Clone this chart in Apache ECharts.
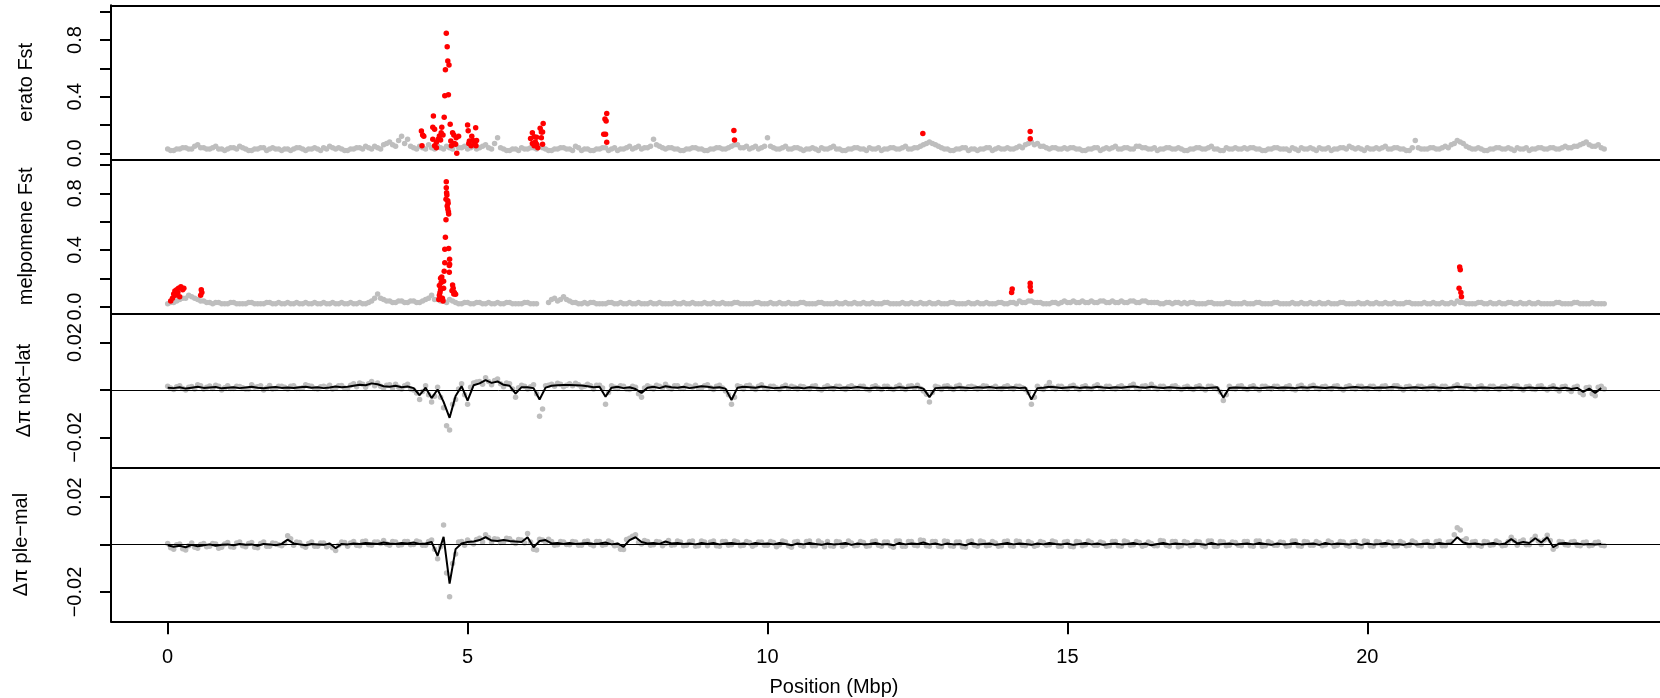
<!DOCTYPE html>
<html><head><meta charset="utf-8">
<script src="https://cdn.jsdelivr.net/npm/echarts@6/dist/echarts.min.js"></script>
<style>html,body{margin:0;padding:0;background:#fff}#c{width:1660px;height:698px}</style>
</head><body><div id="c"></div>
<script>
// window spacing along the chromosome (Mbp); window i sits at i * windowStep,
// the "Mid" arrays hold the windows that sit half a step further on
const windowStep = 0.1;
const midOffset = 0.05;
const xTicks = [0, 5, 10, 15, 20];
const fstTicks = [0, 0.2, 0.4, 0.6, 0.8, 1.0];
const fstLabels = [0, 0.4, 0.8];
const piTicks = [-0.02, 0, 0.02];
const piLabels = [-0.02, 0.02];
const panelNames = ['erato Fst', 'melpomene Fst', '\u0394\u03c0 not\u2212lat', '\u0394\u03c0 ple\u2212mal'];
const xTitle = 'Position (Mbp)';

// erato Fst, background windows
const eratoFst = [
0.03,0.02,0.03,0.04,0.03,0.06,0.04,0.03,0.05,0.03,
0.03,0.04,0.05,0.03,0.02,0.03,0.04,0.03,0.03,0.02,
0.03,0.03,0.04,0.02,0.03,0.03,0.04,0.05,0.03,0.03,
0.02,0.03,0.04,0.05,0.03,0.04,0.06,0.08,0.05,0.12,
0.10,0.04,0.05,0.03,0.04,0.05,0.03,0.04,0.06,0.04,
0.03,0.05,0.04,0.06,0.03,0.11,0.03,0.02,0.03,0.04,
0.03,0.04,0.05,0.03,0.02,0.03,0.04,0.03,0.05,0.02,
0.03,0.02,0.03,0.04,0.03,0.02,0.03,0.05,0.04,0.03,
0.04,0.10,0.05,0.03,0.04,0.03,0.02,0.03,0.04,0.03,
0.02,0.03,0.04,0.03,0.05,0.06,0.04,0.03,0.05,0.04,
0.11,0.04,0.03,0.05,0.03,0.04,0.02,0.03,0.03,0.04,
0.03,0.05,0.03,0.02,0.03,0.04,0.03,0.04,0.03,0.02,
0.03,0.04,0.03,0.05,0.03,0.04,0.06,0.08,0.06,0.04,
0.03,0.02,0.03,0.04,0.03,0.02,0.03,0.04,0.03,0.03,
0.04,0.03,0.05,0.06,0.08,0.07,0.05,0.03,0.04,0.03,
0.03,0.04,0.03,0.02,0.03,0.04,0.03,0.03,0.05,0.03,
0.04,0.03,0.05,0.04,0.03,0.02,0.03,0.04,0.03,0.03,
0.02,0.03,0.04,0.03,0.05,0.03,0.02,0.03,0.04,0.03,
0.03,0.04,0.03,0.02,0.03,0.04,0.03,0.02,0.03,0.04,
0.03,0.03,0.04,0.03,0.02,0.03,0.04,0.05,0.03,0.03,
0.04,0.03,0.03,0.05,0.03,0.04,0.03,0.02,0.09,0.03,
0.03,0.04,0.03,0.05,0.06,0.09,0.07,0.04,0.03,0.03,
0.02,0.03,0.04,0.03,0.03,0.04,0.03,0.02,0.03,0.04,
0.03,0.04,0.03,0.05,0.04,0.05,0.07,0.06,0.05,0.04];
const eratoFstMid = [
0.02,0.03,0.04,0.03,0.05,0.04,0.03,0.04,0.03,0.02,
0.04,0.03,0.04,0.02,0.03,0.04,0.02,0.04,0.03,0.03,
0.02,0.04,0.03,0.03,0.04,0.02,0.03,0.04,0.04,0.02,
0.03,0.04,0.03,0.04,0.05,0.03,0.07,0.06,0.09,0.07,
0.05,0.03,0.04,0.06,0.03,0.04,0.05,0.03,0.04,0.05,
0.04,0.03,0.05,0.04,0.07,0.04,0.02,0.03,0.02,0.03,
0.04,0.03,0.04,0.02,0.03,0.04,0.03,0.02,0.04,0.03,
0.02,0.03,0.04,0.02,0.04,0.03,0.04,0.03,0.05,0.04,
0.05,0.06,0.04,0.04,0.03,0.02,0.03,0.04,0.03,0.02,
0.03,0.04,0.03,0.04,0.06,0.04,0.05,0.04,0.03,0.05,
0.05,0.03,0.04,0.03,0.04,0.03,0.03,0.04,0.02,0.03,
0.04,0.03,0.02,0.03,0.04,0.03,0.02,0.03,0.04,0.03,
0.04,0.03,0.04,0.03,0.04,0.05,0.07,0.07,0.05,0.03,
0.02,0.03,0.04,0.02,0.03,0.03,0.04,0.02,0.04,0.03,
0.03,0.04,0.04,0.07,0.06,0.05,0.04,0.04,0.03,0.04,
0.04,0.03,0.02,0.03,0.04,0.02,0.04,0.04,0.03,0.04,
0.03,0.05,0.04,0.03,0.04,0.03,0.04,0.03,0.04,0.02,
0.03,0.04,0.03,0.04,0.03,0.02,0.04,0.03,0.03,0.04,
0.04,0.03,0.02,0.03,0.04,0.03,0.03,0.04,0.02,0.03,
0.04,0.02,0.03,0.04,0.03,0.04,0.03,0.04,0.04,0.02,
0.03,0.04,0.04,0.03,0.04,0.03,0.02,0.04,0.04,0.03,
0.04,0.03,0.04,0.04,0.07,0.08,0.05,0.03,0.04,0.02,
0.03,0.04,0.03,0.04,0.02,0.03,0.04,0.03,0.04,0.03,
0.04,0.03,0.04,0.04,0.05,0.06,0.08,0.05,0.06,0.03];

// erato Fst, outlier windows [Mbp, Fst]
const eratoOutliers = [
[4.23,0.157],[4.24,0.054],[4.25,0.129],[4.27,0.12],[4.42,0.184],[4.42,0.099],[4.43,0.263],[4.45,0.17],
[4.45,0.054],[4.48,0.078],[4.48,0.04],[4.51,0.099],[4.53,0.122],[4.55,0.094],[4.56,0.146],[4.57,0.184],
[4.59,0.129],[4.61,0.254],[4.62,0.407],[4.63,0.59],[4.645,0.847],[4.66,0.753],[4.67,0.652],[4.68,0.414],
[4.69,0.624],[4.71,0.205],[4.72,0.087],[4.73,0.054],[4.75,0.146],[4.77,0.13],[4.78,0.07],[4.80,0.065],
[4.81,0.11],[4.82,0.0],[4.85,0.12],[5.0,0.2],[5.01,0.16],[5.02,0.07],[5.03,0.087],[5.06,0.054],
[5.07,0.12],[5.09,0.09],[5.12,0.07],[5.135,0.18],[5.14,0.054],[5.15,0.09],
[6.05,0.104],[6.08,0.146],[6.08,0.07],[6.11,0.118],[6.11,0.054],[6.13,0.08],[6.15,0.113],[6.15,0.065],
[6.17,0.04],[6.21,0.177],[6.23,0.15],[6.23,0.11],[6.25,0.15],[6.25,0.065],[6.26,0.21],
[7.27,0.134],[7.29,0.242],[7.30,0.134],[7.31,0.228],[7.32,0.282],[7.32,0.078],
[9.44,0.162],[9.45,0.094],[12.59,0.14],[14.38,0.155],[14.38,0.103]];

// melpomene Fst, background windows (null = no data)
const melpomeneFst = [
0.02,0.03,0.05,0.06,0.07,0.05,0.04,0.03,0.03,0.02,
0.02,0.03,0.02,0.02,0.03,0.02,0.02,0.03,0.02,0.02,
0.03,0.02,0.02,0.03,0.02,0.02,0.03,0.02,0.02,0.03,
0.02,0.02,0.03,0.02,0.04,0.09,0.05,0.04,0.03,0.04,
0.03,0.04,0.03,0.05,0.08,0.05,0.04,0.05,0.03,0.02,
0.03,0.02,0.03,0.02,0.02,0.03,0.02,0.03,0.02,0.02,
0.03,0.02,null,null,0.05,0.04,0.07,0.04,0.03,0.02,
0.02,0.03,0.02,0.02,0.03,0.02,0.02,0.03,0.02,0.02,
0.02,0.02,0.03,0.02,0.02,0.02,0.03,0.02,0.02,0.02,
0.02,0.03,0.02,0.02,0.02,0.03,0.02,0.02,0.03,0.02,
0.02,0.02,0.03,0.02,0.02,0.02,0.03,0.02,0.02,0.03,
0.02,0.02,0.02,0.03,0.02,0.02,0.03,0.02,0.02,0.02,
0.03,0.02,0.02,0.02,0.03,0.02,0.02,0.03,0.02,0.02,
0.02,0.03,0.02,0.02,0.02,0.03,0.02,0.02,0.02,0.03,
0.02,0.03,0.04,0.03,0.04,0.03,0.02,0.02,0.03,0.03,
0.03,0.04,0.03,0.03,0.04,0.03,0.04,0.03,0.03,0.04,
0.03,0.04,0.03,0.04,0.03,0.03,0.02,0.03,0.03,0.02,
0.02,0.03,0.02,0.02,0.03,0.02,0.02,0.03,0.02,0.02,
0.02,0.02,0.03,0.02,0.02,0.03,0.02,0.02,0.02,0.03,
0.02,0.02,0.03,0.02,0.02,0.02,0.03,0.02,0.02,0.02,
0.03,0.02,0.02,0.03,0.02,0.02,0.02,0.03,0.02,0.02,
0.02,0.03,0.02,0.02,0.03,0.04,0.03,0.02,0.02,0.03,
0.02,0.02,0.03,0.02,0.03,0.02,0.02,0.03,0.02,0.02,
0.02,0.02,0.03,0.02,0.02,0.03,0.02,0.02,0.02,0.02];
const melpomeneFstMid = [
0.03,0.04,0.06,0.08,0.06,0.04,0.03,0.02,0.03,0.02,
0.03,0.02,0.02,0.03,0.02,0.02,0.03,0.02,0.03,0.02,
0.02,0.03,0.02,0.02,0.03,0.02,0.02,0.03,0.02,0.02,
0.03,0.02,0.02,0.03,0.06,0.06,0.04,0.03,0.04,0.03,
0.04,0.03,0.04,0.06,0.05,0.04,0.03,0.04,0.02,0.03,
0.02,0.03,0.02,0.03,0.02,0.02,0.03,0.02,0.02,0.03,
0.02,0.02,null,0.03,0.06,0.05,0.05,0.03,0.02,0.03,
0.03,0.02,0.02,0.03,0.02,0.03,0.02,0.02,0.03,0.02,
0.03,0.02,0.02,0.02,0.03,0.02,0.02,0.03,0.02,0.03,
0.02,0.02,0.03,0.02,0.03,0.02,0.02,0.02,0.03,0.02,
0.03,0.02,0.02,0.03,0.02,0.03,0.02,0.02,0.03,0.02,
0.02,0.03,0.02,0.02,0.03,0.02,0.02,0.03,0.02,0.03,
0.02,0.02,0.03,0.02,0.02,0.03,0.02,0.02,0.03,0.02,
0.03,0.02,0.02,0.03,0.02,0.02,0.03,0.02,0.03,0.02,
0.03,0.02,0.03,0.04,0.03,0.03,0.02,0.03,0.02,0.04,
0.03,0.03,0.04,0.03,0.03,0.04,0.03,0.04,0.03,0.03,
0.04,0.03,0.04,0.03,0.03,0.02,0.03,0.02,0.03,0.03,
0.03,0.02,0.02,0.03,0.02,0.02,0.03,0.02,0.02,0.03,
0.02,0.03,0.02,0.02,0.03,0.02,0.02,0.03,0.02,0.02,
0.03,0.02,0.02,0.03,0.02,0.03,0.02,0.02,0.03,0.02,
0.02,0.03,0.02,0.02,0.03,0.02,0.03,0.02,0.02,0.03,
0.02,0.02,0.03,0.02,0.02,0.03,0.02,0.02,0.03,0.02,
0.03,0.02,0.02,0.03,0.02,0.03,0.02,0.02,0.03,0.02,
0.02,0.03,0.02,0.02,0.03,0.02,0.02,0.03,0.02,0.02];

// melpomene Fst, outlier windows [Mbp, Fst]
const melpomeneOutliers = [
[0.05,0.04],[0.08,0.06],[0.1,0.09],[0.12,0.11],[0.13,0.08],[0.15,0.12],[0.17,0.1],[0.18,0.13],
[0.2,0.07],[0.22,0.14],[0.25,0.12],[0.27,0.13],[0.55,0.08],[0.57,0.1],[0.56,0.12],
[4.52,0.05],[4.53,0.08],[4.54,0.1],[4.55,0.12],[4.53,0.15],[4.56,0.17],[4.55,0.2],[4.57,0.21],
[4.6,0.18],[4.6,0.13],[4.58,0.06],[4.59,0.04],[4.61,0.25],[4.62,0.31],[4.62,0.405],[4.63,0.49],
[4.64,0.614],[4.645,0.882],[4.645,0.84],[4.65,0.804],[4.655,0.788],[4.64,0.758],[4.67,0.748],
[4.675,0.729],[4.66,0.71],[4.67,0.689],[4.68,0.67],[4.685,0.654],[4.685,0.41],[4.7,0.334],
[4.7,0.30],[4.695,0.29],[4.695,0.242],[4.75,0.153],[4.76,0.13],[4.78,0.10],[4.74,0.113],
[4.8,0.088],[4.77,0.09],
[14.07,0.10],[14.08,0.125],[14.38,0.165],[14.38,0.14],[14.39,0.11],
[21.54,0.28],[21.55,0.26],[21.53,0.13],[21.56,0.1],[21.57,0.07]];

// delta pi not-lat: window values (grey points) and smoothed trend (black line)
const notLatPi = [
.0016,.0002,.0018,.0000,.0015,.0022,.0004,.0017,.0020,.0000,
.0018,.0006,.0015,.0004,.0022,.0014,.0000,.0019,.0006,.0016,
.0004,.0018,.0006,.0022,.0016,.0004,.0016,.0020,.0008,.0019,
.0006,.0026,.0030,.0012,.0036,.0030,.0008,.0022,.0024,.0004,
.0024,.0000,-.0040,.0018,-.0050,.0012,-.0075,-.0168,-.0040,.0026,
-.0060,.0030,.0036,.0052,.0022,.0046,.0014,.0026,-.0030,.0020,
.0004,.0022,-.0110,.0018,.0024,.0028,.0014,.0026,.0028,.0012,
.0024,.0004,.0020,-.0060,.0018,.0006,.0016,.0002,.0012,-.0030,
.0018,.0004,.0016,.0024,.0004,.0018,.0006,.0016,.0020,.0008,
.0022,.0002,.0020,-.0004,-.0060,.0018,.0004,.0020,.0002,.0022,
.0004,.0016,.0002,.0020,.0016,.0004,.0014,.0004,.0018,.0000,
.0018,.0004,.0016,.0002,.0018,.0006,.0016,.0000,.0018,.0002,
.0016,.0002,.0020,.0002,.0018,.0020,-.0004,-.0050,.0016,.0002,
.0018,.0002,.0020,.0004,.0016,.0004,.0018,.0006,.0016,.0004,
.0018,.0004,.0016,.0002,-.0060,.0016,.0002,.0032,.0004,.0016,
.0004,.0020,.0002,.0018,.0004,.0022,.0004,.0016,.0004,.0018,
.0006,.0024,.0004,.0018,.0024,.0004,.0016,.0004,.0018,.0002,
.0016,.0002,.0018,.0000,.0016,.0004,-.0044,.0016,.0004,.0018,
.0002,.0018,.0000,.0016,.0004,.0016,.0004,.0018,.0000,.0020,
.0004,.0020,.0004,.0016,.0004,.0018,.0000,.0018,.0004,.0016,
.0004,.0016,.0004,.0018,.0006,.0018,.0000,.0016,.0004,.0016,
.0004,.0018,.0002,.0016,.0004,.0022,.0006,.0018,.0002,.0018,
.0004,.0016,.0002,.0016,.0004,.0018,.0000,.0016,.0002,.0018,
.0000,.0018,-.0004,.0016,-.0006,.0016,-.0020,.0012,-.0024,.0016];
const notLatPiMid = [
.0008,.0014,.0006,.0012,.0004,.0018,.0012,.0006,.0016,.0010,
.0006,.0016,.0010,.0004,.0012,.0018,.0008,.0004,.0016,.0012,
.0016,.0006,.0010,.0018,.0006,.0014,.0012,.0004,.0018,.0008,
.0020,.0014,.0024,.0026,.0018,.0016,.0020,.0008,.0012,.0018,
.0004,-.0012,-.0006,-.0020,-.0026,-.0030,-.0150,-.0060,.0004,-.0020,
.0012,.0034,.0024,.0036,.0040,.0026,.0030,.0004,.0010,.0016,
.0014,-.0016,-.0080,.0020,.0016,.0024,.0020,.0018,.0022,.0016,
.0018,.0020,.0008,-.0010,.0012,.0018,.0004,.0016,-.0016,.0008,
.0012,.0020,.0010,.0012,.0018,.0006,.0020,.0012,.0008,.0018,
.0010,.0016,.0008,-.0020,-.0030,.0014,.0018,.0008,.0016,.0010,
.0016,.0008,.0014,.0006,.0012,.0016,.0006,.0016,.0004,.0012,
.0008,.0016,.0006,.0014,.0010,.0016,.0004,.0014,.0008,.0016,
.0006,.0014,.0008,.0016,.0010,.0006,-.0018,-.0010,.0012,.0016,
.0008,.0016,.0006,.0014,.0012,.0008,.0016,.0010,.0006,.0014,
.0008,.0016,.0010,-.0010,-.0030,.0006,.0016,.0012,.0016,.0006,
.0016,.0008,.0014,.0006,.0016,.0010,.0016,.0006,.0014,.0008,
.0018,.0010,.0016,.0008,.0012,.0016,.0006,.0016,.0008,.0012,
.0006,.0014,.0006,.0016,.0008,-.0008,-.0020,.0006,.0016,.0006,
.0014,.0006,.0016,.0008,.0016,.0006,.0014,.0004,.0016,.0008,
.0016,.0008,.0014,.0006,.0016,.0006,.0014,.0008,.0016,.0006,
.0016,.0006,.0016,.0006,.0018,.0008,.0014,.0006,.0016,.0008,
.0014,.0008,.0016,.0006,.0016,.0010,.0018,.0006,.0014,.0006,
.0016,.0006,.0014,.0008,.0016,.0006,.0014,.0004,.0016,.0006,
.0012,.0004,.0014,.0002,.0012,-.0010,.0010,-.0016,.0012,.0004];
const notLatTrend = [
.0010,.0008,.0012,.0006,.0010,.0014,.0009,.0011,.0013,.0007,
.0010,.0012,.0008,.0011,.0014,.0010,.0007,.0011,.0013,.0009,
.0011,.0009,.0012,.0014,.0010,.0012,.0008,.0011,.0015,.0012,
.0014,.0018,.0022,.0020,.0028,.0024,.0016,.0014,.0018,.0012,
.0015,.0008,-.0022,.0010,-.0034,.0002,-.0050,-.0117,-.0025,.0016,
-.0045,.0020,.0028,.0042,.0030,.0036,.0022,.0018,-.0015,.0012,
.0012,.0008,-.0040,.0010,.0018,.0020,.0021,.0021,.0020,.0019,
.0016,.0012,.0014,-.0028,.0010,.0014,.0008,.0012,.0004,-.0012,
.0010,.0014,.0008,.0016,.0012,.0010,.0014,.0008,.0012,.0016,
.0014,.0010,.0012,.0006,-.0042,.0010,.0014,.0012,.0010,.0015,
.0012,.0008,.0010,.0013,.0009,.0011,.0007,.0012,.0010,.0008,
.0010,.0012,.0008,.0011,.0009,.0013,.0010,.0007,.0011,.0009,
.0010,.0008,.0012,.0009,.0011,.0013,.0006,-.0030,.0008,.0010,
.0011,.0009,.0012,.0010,.0008,.0012,.0010,.0013,.0009,.0011,
.0010,.0012,.0008,.0011,-.0040,.0008,.0010,.0014,.0012,.0009,
.0011,.0013,.0009,.0012,.0010,.0014,.0011,.0009,.0012,.0010,
.0013,.0015,.0012,.0010,.0014,.0011,.0009,.0012,.0010,.0008,
.0010,.0009,.0011,.0008,.0010,.0012,-.0032,.0009,.0011,.0010,
.0009,.0011,.0008,.0010,.0012,.0009,.0011,.0010,.0008,.0012,
.0010,.0013,.0011,.0009,.0012,.0010,.0008,.0011,.0013,.0010,
.0012,.0009,.0011,.0010,.0013,.0011,.0008,.0010,.0012,.0009,
.0011,.0012,.0010,.0008,.0011,.0014,.0012,.0010,.0009,.0011,
.0010,.0008,.0011,.0009,.0012,.0010,.0007,.0011,.0009,.0010,
.0008,.0011,.0006,.0010,.0004,.0009,-.0008,.0006,-.0012,.0008];

// delta pi ple-mal: window values (grey points) and smoothed trend (black line)
const pleMalPi = [
.0004,-.0020,.0002,-.0024,.0006,-.0016,.0004,-.0008,.0002,-.0012,
.0008,-.0012,.0010,-.0010,.0008,-.0014,.0010,-.0008,.0004,-.0006,
.0036,-.0004,.0008,-.0012,.0010,-.0008,.0006,-.0004,-.0026,.0010,
-.0008,.0012,-.0006,.0014,-.0004,.0010,.0016,-.0004,.0010,-.0002,
.0012,.0000,.0010,-.0004,.0018,-.0060,.0081,-.0220,-.0040,.0012,
.0018,.0002,.0026,.0040,.0008,.0022,.0010,.0024,.0004,.0018,
.0046,-.0020,.0022,.0010,.0012,-.0002,.0010,-.0002,.0010,-.0004,
.0014,-.0006,.0012,.0000,.0008,-.0004,-.0022,.0026,.0040,.0002,
.0012,-.0002,.0010,.0004,-.0004,.0014,-.0006,.0012,-.0008,.0014,
-.0006,.0014,-.0008,.0012,-.0002,.0010,-.0004,.0008,-.0002,.0010,
-.0004,.0008,-.0002,.0010,-.0012,.0012,-.0008,.0014,-.0006,.0006,
.0012,-.0008,.0010,-.0002,.0006,-.0004,.0008,-.0006,.0014,-.0008,
.0010,-.0012,.0014,-.0008,.0012,-.0006,.0016,-.0008,.0012,-.0010,
.0012,-.0008,.0010,-.0012,.0014,-.0008,.0010,-.0004,.0006,-.0006,
.0014,-.0008,.0012,-.0006,.0006,-.0004,.0008,-.0002,.0010,-.0008,
.0012,-.0010,.0010,-.0002,.0008,-.0004,.0006,-.0006,.0012,-.0008,
.0010,-.0002,.0008,-.0004,.0004,-.0006,.0014,-.0008,.0012,-.0006,
.0008,-.0004,.0010,-.0010,.0014,-.0008,.0010,-.0004,.0008,-.0006,
.0012,-.0008,.0014,-.0006,.0006,-.0004,.0008,-.0006,.0014,-.0008,
.0010,-.0004,.0006,-.0002,.0008,-.0004,.0010,-.0008,.0012,-.0010,
.0012,-.0008,.0010,-.0002,.0008,-.0006,.0006,-.0004,.0008,-.0006,
.0012,-.0008,.0014,-.0006,.0012,.0070,.0016,-.0006,.0012,-.0008,
.0010,-.0002,.0008,-.0004,.0030,-.0004,.0018,-.0002,.0034,.0000,
.0038,-.0020,.0012,-.0002,.0010,-.0004,.0008,-.0006,.0008,-.0004];
const pleMalPiMid = [
-.0014,-.0002,-.0018,-.0006,-.0012,.0000,-.0010,.0004,-.0016,.0002,
-.0010,.0006,-.0006,.0004,-.0012,.0004,-.0008,.0006,-.0002,.0004,
.0024,.0010,-.0006,.0004,-.0008,.0006,-.0010,-.0014,-.0004,.0008,
.0006,-.0004,.0012,-.0002,.0010,.0004,.0002,.0012,-.0004,.0012,
-.0002,.0014,-.0004,.0012,-.0020,-.0010,-.0120,-.0080,.0010,-.0004,
.0008,.0020,.0010,.0028,.0024,.0008,.0026,.0012,.0020,.0006,
.0010,-.0024,.0018,.0022,-.0004,.0012,.0000,.0012,-.0004,.0012,
.0000,.0012,-.0004,.0014,-.0006,-.0020,.0020,.0034,.0008,.0016,
-.0004,.0012,-.0006,.0016,-.0002,.0010,-.0004,.0014,-.0006,.0010,
.0010,-.0006,.0012,-.0004,.0014,-.0006,.0012,-.0008,.0010,-.0004,
.0012,-.0010,.0014,-.0006,.0010,-.0004,.0012,-.0006,.0014,-.0010,
-.0006,.0012,-.0008,.0014,-.0006,.0012,-.0008,.0012,-.0004,.0010,
-.0006,.0014,-.0008,.0012,-.0004,.0018,-.0006,.0012,-.0008,.0014,
-.0006,.0010,-.0010,.0012,-.0004,.0014,-.0006,.0012,-.0008,.0012,
-.0006,.0014,-.0004,.0012,-.0008,.0012,-.0004,.0014,-.0008,.0010,
-.0008,.0012,-.0006,.0014,-.0004,.0010,-.0008,.0012,-.0006,.0014,
-.0004,.0012,-.0008,.0010,-.0006,.0016,-.0004,.0012,-.0010,.0012,
-.0006,.0012,-.0004,.0014,-.0008,.0012,-.0006,.0010,-.0004,.0012,
-.0006,.0014,-.0008,.0012,-.0004,.0010,-.0008,.0014,-.0006,.0012,
-.0004,.0012,-.0006,.0014,-.0008,.0012,-.0004,.0010,-.0008,.0014,
-.0006,.0012,-.0004,.0010,-.0008,.0012,-.0006,.0014,-.0004,.0010,
-.0008,.0012,-.0006,.0010,.0040,.0060,.0024,.0010,-.0004,.0012,
-.0004,.0014,-.0006,.0012,.0016,.0012,-.0002,.0020,.0014,.0018,
.0016,-.0008,.0010,-.0004,.0012,-.0006,.0010,-.0004,.0010,-.0006];
const pleMalTrend = [
-.0004,-.0010,-.0006,-.0012,-.0002,-.0008,-.0004,.0000,-.0006,-.0002,
.0000,-.0004,.0002,-.0002,.0000,-.0006,.0002,.0000,-.0004,.0002,
.0020,.0004,.0000,-.0004,.0002,.0000,-.0002,.0004,-.0016,.0002,
.0000,.0004,.0002,.0006,.0004,.0002,.0008,.0004,.0002,.0006,
.0004,.0008,.0002,.0004,.0010,-.0048,.0032,-.0165,-.0020,.0004,
.0010,.0012,.0018,.0030,.0016,.0014,.0018,.0014,.0012,.0010,
.0030,-.0012,.0014,.0018,.0004,.0006,.0002,.0006,.0002,.0004,
.0006,.0002,.0004,.0008,.0000,.0004,-.0010,.0018,.0030,.0010,
.0004,.0006,.0002,.0012,.0004,.0006,.0002,.0004,.0000,.0006,
.0002,.0006,.0000,.0004,.0006,.0002,.0004,.0000,.0006,.0002,
.0004,.0000,.0006,.0002,-.0004,.0004,.0000,.0006,.0002,-.0002,
.0004,.0000,.0002,.0006,-.0002,.0004,.0000,.0002,.0006,.0000,
.0002,-.0004,.0006,.0000,.0004,.0002,.0008,.0000,.0004,-.0002,
.0004,.0000,.0002,-.0004,.0006,.0000,.0002,.0004,-.0002,.0002,
.0006,.0000,.0004,.0002,-.0002,.0004,.0000,.0006,.0002,.0000,
.0004,-.0002,.0002,.0006,.0000,.0004,-.0002,.0002,.0004,.0000,
.0002,.0006,.0000,.0004,-.0004,.0002,.0006,.0000,.0004,.0002,
.0000,.0004,.0002,-.0002,.0006,.0000,.0002,.0004,.0000,.0002,
.0004,.0000,.0006,.0002,-.0002,.0004,.0000,.0002,.0006,.0000,
.0002,.0004,-.0002,.0006,.0000,.0004,.0002,.0000,.0004,-.0002,
.0004,.0000,.0002,.0006,.0000,.0002,-.0002,.0004,.0000,.0002,
.0004,.0000,.0006,.0002,.0004,.0030,.0008,.0002,.0004,.0000,
.0002,.0006,.0000,.0004,.0022,.0004,.0010,.0006,.0026,.0008,
.0030,-.0012,.0004,.0006,.0002,.0004,.0000,.0002,.0000,.0002];

// ---------- build ----------
const pos = (i, off) => Math.round((i * windowStep + off) * 1000) / 1000;
const toPairs = (arr, off) => arr.map((v, i) => [pos(i, off), v]).filter(p => p[1] !== null);
const both = (a, b) => toPairs(a, 0).concat(toPairs(b, midOffset));
const toLine = arr => arr.map((v, i) => [pos(i, 0), v]);

const FONT = 'Liberation Sans, Arial, sans-serif';
const BLACK = '#000';
const GREY = '#BEBEBE';
const panels = [
  {top: 5.3, height: 154, min: -0.042, max: 1.045, ticks: fstTicks, labels: fstLabels, fmt: v => v.toFixed(1), gap: 75},
  {top: 159.3, height: 154, min: -0.047, max: 1.04, ticks: fstTicks, labels: fstLabels, fmt: v => v.toFixed(1), gap: 75},
  {top: 313.3, height: 154.4, min: -0.0327, max: 0.0323, ticks: piTicks, labels: piLabels, fmt: v => (v < 0 ? '\u2212' : '') + Math.abs(v).toFixed(2), gap: 77},
  {top: 467.7, height: 153.6, min: -0.0323, max: 0.0322, ticks: piTicks, labels: piLabels, fmt: v => (v < 0 ? '\u2212' : '') + Math.abs(v).toFixed(2), gap: 80}
];

const grid = panels.map(p => ({left: 111, right: 0, top: p.top, height: p.height, containLabel: false}));
const xAxis = panels.map((p, i) => ({
  gridIndex: i, type: 'value', min: -0.945, max: 24.88, position: 'bottom',
  axisLine: {show: true, onZero: false, lineStyle: {color: BLACK, width: 2}},
  axisTick: {show: i === 3, length: 13, lineStyle: {color: BLACK, width: 2}, customValues: xTicks},
  axisLabel: {show: i === 3, customValues: xTicks, margin: 26, fontSize: 20, fontFamily: FONT, color: BLACK},
  splitLine: {show: false}
}));
xAxis.push({
  gridIndex: 0, type: 'value', min: -0.945, max: 24.88, position: 'top',
  axisLine: {show: true, onZero: false, lineStyle: {color: BLACK, width: 2}},
  axisTick: {show: false}, axisLabel: {show: false}, splitLine: {show: false}
});
const yAxis = panels.map((p, i) => ({
  gridIndex: i, type: 'value', min: p.min, max: p.max,
  name: panelNames[i], nameLocation: 'middle', nameRotate: 90, nameGap: p.gap,
  nameTextStyle: {fontSize: 20, fontFamily: FONT, color: BLACK},
  axisLine: {show: true, onZero: false, lineStyle: {color: BLACK, width: 2}},
  axisTick: {show: true, length: 11, customValues: p.ticks, lineStyle: {color: BLACK, width: 2}},
  axisLabel: {show: true, customValues: p.labels, rotate: 90, margin: 26, fontSize: 20, fontFamily: FONT, color: BLACK, formatter: p.fmt},
  splitLine: {show: false}
}));

const scatter = (idx, data, color) => ({
  type: 'scatter', xAxisIndex: idx, yAxisIndex: idx, data, symbol: 'circle', symbolSize: 5.5,
  itemStyle: {color, opacity: 1}, silent: true, animation: false, large: false
});
const zeroLine = {silent: true, symbol: 'none', label: {show: false}, animation: false,
  lineStyle: {color: BLACK, width: 1, type: 'solid'}, data: [{yAxis: 0}]};
const trend = (idx, data) => ({
  type: 'line', xAxisIndex: idx, yAxisIndex: idx, data, showSymbol: false, symbol: 'none',
  lineStyle: {color: BLACK, width: 2}, silent: true, animation: false, markLine: zeroLine
});

const series = [
  scatter(0, both(eratoFst, eratoFstMid), GREY),
  scatter(0, eratoOutliers, '#FF0000'),
  scatter(1, both(melpomeneFst, melpomeneFstMid), GREY),
  scatter(1, melpomeneOutliers, '#FF0000'),
  scatter(2, both(notLatPi, notLatPiMid), GREY),
  trend(2, toLine(notLatTrend)),
  scatter(3, both(pleMalPi, pleMalPiMid), GREY),
  trend(3, toLine(pleMalTrend))
];

const chart = echarts.init(document.getElementById('c'), null, {renderer: 'canvas'});
chart.setOption({
  backgroundColor: '#fff',
  animation: false,
  grid, xAxis, yAxis, series,
  graphic: [{type: 'text', x: 834, y: 687, style: {text: xTitle, fontSize: 20, fontFamily: FONT, fill: BLACK, align: 'center', verticalAlign: 'middle'}}]
});
</script></body></html>
